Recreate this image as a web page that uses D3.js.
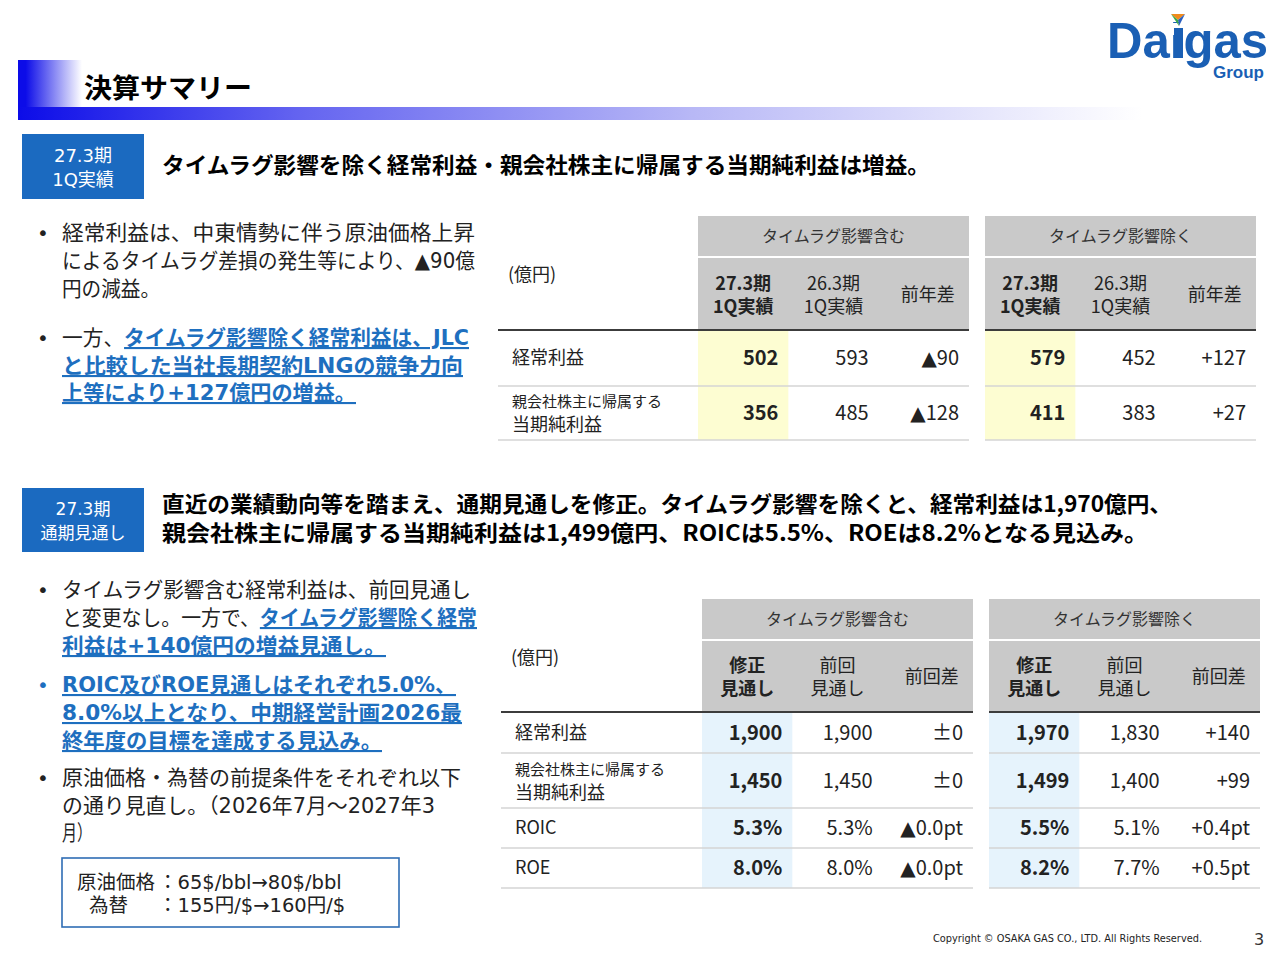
<!DOCTYPE html>
<html>
<head>
<meta charset="utf-8">
<script src="https://cdn.jsdelivr.net/npm/d3@7"></script>
<style>
body { margin: 0; background: #fff; }
svg { display: block; }
</style>
</head>
<body>
<svg width="1280" height="960"></svg>
<script>
// ---- data ----
var groupNames = ["タイムラグ影響含む", "タイムラグ影響除く"];

var subHeads1 = [["27.3期", "1Q実績"], ["26.3期", "1Q実績"], ["前年差"]];
var rowLabels1 = [["経常利益"], ["親会社株主に帰属する", "当期純利益"]];
var inclValues1 = [["502", "593", "▲90"], ["356", "485", "▲128"]];
var exclValues1 = [["579", "452", "+127"], ["411", "383", "+27"]];

var subHeads2 = [["修正", "見通し"], ["前回", "見通し"], ["前回差"]];
var rowLabels2 = [["経常利益"], ["親会社株主に帰属する", "当期純利益"], ["ROIC"], ["ROE"]];
var inclValues2 = [["1,900", "1,900", "±0"], ["1,450", "1,450", "±0"], ["5.3%", "5.3%", "▲0.0pt"], ["8.0%", "8.0%", "▲0.0pt"]];
var exclValues2 = [["1,970", "1,830", "+140"], ["1,499", "1,400", "+99"], ["5.5%", "5.1%", "+0.4pt"], ["8.2%", "7.7%", "+0.5pt"]];

var blue = "#1e6fbf";
var jp = "'DejaVu Sans', 'Noto Sans CJK JP', sans-serif";
var tbl = "'Noto Sans CJK JP', sans-serif";

var svg = d3.select("svg");
var defs = svg.append("defs");

// ---- title bar ----
var g1 = defs.append("linearGradient").attr("id", "fadeBlock");
g1.append("stop").attr("offset", "0").attr("stop-color", "#0c0ce8");
g1.append("stop").attr("offset", "0.12").attr("stop-color", "#0c0ce8");
g1.append("stop").attr("offset", "1").attr("stop-color", "#ffffff");
var g2 = defs.append("linearGradient").attr("id", "fadeStrip");
g2.append("stop").attr("offset", "0").attr("stop-color", "#0c0ce8");
g2.append("stop").attr("offset", "0.25").attr("stop-color", "#6464f0");
g2.append("stop").attr("offset", "0.6").attr("stop-color", "#b8b8f6");
g2.append("stop").attr("offset", "1").attr("stop-color", "#ffffff");

svg.append("rect").attr("x", 18).attr("y", 60).attr("width", 64).attr("height", 60).attr("fill", "url(#fadeBlock)");
svg.append("rect").attr("x", 18).attr("y", 107).attr("width", 1125).attr("height", 13).attr("fill", "url(#fadeStrip)");
svg.append("text").attr("x", 84).attr("y", 98)
    .style("font-family", "'Noto Sans CJK JP'").style("font-weight", 700).style("font-size", "27px")
    .attr("textLength", 168).attr("lengthAdjust", "spacingAndGlyphs")
    .text("決算サマリー");

// ---- logo ----
svg.append("text").attr("x", 1107).attr("y", 58)
    .style("font-family", "'Liberation Sans', Arial").style("font-weight", 700).style("font-size", "50px")
    .attr("fill", "#1a5fb4").attr("textLength", 161).attr("lengthAdjust", "spacingAndGlyphs")
    .text("Daigas");
svg.append("rect").attr("x", 1170).attr("y", 23).attr("width", 16).attr("height", 12).attr("fill", "#fff");
svg.append("polygon").attr("points", "1171,14 1185,14 1178,20").attr("fill", "#f08a1c");
svg.append("polygon").attr("points", "1185,14 1178,20 1179,26").attr("fill", "#2a5fc0");
svg.append("polygon").attr("points", "1171,14 1178,20 1179,26").attr("fill", "#3aa84a");
svg.append("rect").attr("x", 1174).attr("y", 28).attr("width", 9).attr("height", 30).attr("fill", "#1a5fb4");
svg.append("text").attr("x", 1213).attr("y", 78)
    .style("font-family", "'Liberation Sans', Arial").style("font-weight", 700).style("font-size", "17px")
    .attr("fill", "#1a5fb4").text("Group");

// ---- section labels & headlines ----
function label(y, h, lines, size) {
    svg.append("rect").attr("x", 22).attr("y", y).attr("width", 122).attr("height", h).attr("fill", "#1b6ac0");
    lines.forEach(function(t, i) {
        svg.append("text").attr("x", 83).attr("y", y + h / 2 - 5 + i * 24)
            .attr("text-anchor", "middle").attr("fill", "#fff")
            .style("font-family", jp).style("font-size", size + "px").text(t);
    });
}
label(134, 65, ["27.3期", "1Q実績"], 18);
label(488, 64, ["27.3期", "通期見通し"], 17);

function headline(y, t, w) {
    svg.append("text").attr("x", 162).attr("y", y)
        .style("font-family", "'Noto Sans CJK JP'").style("font-weight", 700).style("font-size", "22px")
        .attr("textLength", w).attr("lengthAdjust", "spacingAndGlyphs").text(t);
}
headline(173, "タイムラグ影響を除く経常利益・親会社株主に帰属する当期純利益は増益。", 768);
headline(512, "直近の業績動向等を踏まえ、通期見通しを修正。タイムラグ影響を除くと、経常利益は1,970億円、", 1010);
headline(541, "親会社株主に帰属する当期純利益は1,499億円、ROICは5.5%、ROEは8.2%となる見込み。", 986);

// ---- bullets ----
// parts: list of [text, emphasised]; endX is where the line stops in the slide
function bulletLine(y, endX, parts, dot, dotColor) {
    if (dot) {
        svg.append("text").attr("x", 37).attr("y", y).attr("fill", dotColor || "#222")
            .style("font-family", jp).style("font-size", "20px").text("•");
    }
    var t = svg.append("text").attr("x", 62).attr("y", y)
        .attr("textLength", endX - 62).attr("lengthAdjust", "spacingAndGlyphs")
        .style("font-family", jp).style("font-size", "21px").attr("fill", "#222");
    parts.forEach(function(p) {
        var s = t.append("tspan").text(p[0]);
        if (p[1]) {
            s.attr("fill", blue).style("font-weight", 700).style("text-decoration", "underline");
        }
    });
}

bulletLine(240, 475, [["経常利益は、中東情勢に伴う原油価格上昇"]], true);
bulletLine(268, 475, [["によるタイムラグ差損の発生等により、▲90億"]]);
bulletLine(296, 160, [["円の減益。"]]);
bulletLine(345, 469, [["一方、"], ["タイムラグ影響除く経常利益は、JLC", true]], true);
bulletLine(373, 463, [["と比較した当社長期契約LNGの競争力向", true]]);
bulletLine(400, 356, [["上等により+127億円の増益。", true]]);

bulletLine(597, 471, [["タイムラグ影響含む経常利益は、前回見通し"]], true);
bulletLine(625, 477, [["と変更なし。一方で、"], ["タイムラグ影響除く経常", true]]);
bulletLine(653, 386, [["利益は+140億円の増益見通し。", true]]);
bulletLine(692, 456, [["ROIC及びROE見通しはそれぞれ5.0%、", true]], true, blue);
bulletLine(720, 462, [["8.0%以上となり、中期経営計画2026最", true]]);
bulletLine(748, 382, [["終年度の目標を達成する見込み。", true]]);
bulletLine(785, 461, [["原油価格・為替の前提条件をそれぞれ以下"]], true);
bulletLine(813, 435, [["の通り見直し。（2026年7月～2027年3"]]);
bulletLine(840, 92, [["月）"]]);

svg.append("rect").attr("x", 62).attr("y", 858).attr("width", 337).attr("height", 69)
    .attr("fill", "none").attr("stroke", "#2f6db5").attr("stroke-width", 1.6);
[[77, 889, "原油価格"], [158, 889, "：65$/bbl→80$/bbl"], [89, 912, "為替"], [158, 912, "：155円/$→160円/$"]]
    .forEach(function(d) {
        svg.append("text").attr("x", d[0]).attr("y", d[1]).attr("fill", "#222")
            .style("font-family", jp).style("font-size", "19.5px").text(d[2]);
    });

// ---- tables ----
function valueText(sel, v) {
    if (v.charAt(0) === "▲") {
        sel.append("tspan").style("font-family", "'DejaVu Sans'").style("font-size", "20px").text("▲");
        sel.append("tspan").text(v.slice(1));
    } else {
        sel.text(v);
    }
}

function drawTable(cfg) {
    var g = svg.append("g").style("font-family", tbl).attr("fill", "#222");
    var subTop = cfg.top + cfg.headH + 2;
    var ruleY = subTop + cfg.subH + 1;
    var edges = [ruleY].concat(Array.from(d3.cumsum(cfg.rowH), function(v) { return ruleY + v; }));
    var y = d3.scaleOrdinal().domain(d3.range(edges.length)).range(edges);
    var bottom = y(edges.length - 1);

    [cfg.incl, cfg.excl].forEach(function(vals, gi) {
        var gx = cfg.groupX[gi];
        var x = d3.scaleBand().domain(d3.range(3)).range([gx, gx + cfg.groupW]);

        g.append("rect").attr("x", x(0)).attr("y", ruleY).attr("width", x.bandwidth())
            .attr("height", bottom - ruleY).attr("fill", cfg.hl);
        g.append("rect").attr("x", gx).attr("y", cfg.top).attr("width", cfg.groupW)
            .attr("height", cfg.headH).attr("fill", "#c9c9c9");
        g.append("rect").attr("x", gx).attr("y", subTop).attr("width", cfg.groupW)
            .attr("height", cfg.subH).attr("fill", "#c9c9c9");
        g.append("text").attr("x", gx + cfg.groupW / 2).attr("y", cfg.top + cfg.headH / 2 + 6)
            .attr("text-anchor", "middle").style("font-size", "16px").attr("fill", "#333")
            .text(groupNames[gi]);

        cfg.subHeads.forEach(function(lines, ci) {
            var cy = subTop + cfg.subH / 2;
            lines.forEach(function(t, li) {
                var ly = lines.length === 1 ? cy + 7 : cy - 11 + li * 23 + 7;
                g.append("text").attr("x", x(ci) + x.bandwidth() / 2 + (ci === 2 ? 4 : 0)).attr("y", ly)
                    .attr("text-anchor", "middle").style("font-size", "18px")
                    .style("font-weight", ci === 0 ? 700 : 400).text(t);
            });
        });

        vals.forEach(function(row, ri) {
            var cy = (y(ri) + y(ri + 1)) / 2;
            row.forEach(function(v, ci) {
                var t = g.append("text").attr("x", x(ci) + x.bandwidth() - 10).attr("y", cy + 7)
                    .attr("text-anchor", "end").style("font-size", "20px")
                    .style("font-weight", ci === 0 ? 700 : 400);
                valueText(t, v);
            });
        });

        // row separators
        d3.range(1, edges.length).forEach(function(i) {
            g.append("line").attr("x1", gi === 0 ? cfg.x0 : gx).attr("x2", gx + cfg.groupW)
                .attr("y1", y(i)).attr("y2", y(i)).attr("stroke", "#d4d4d4").attr("stroke-width", 1.6);
        });
        g.append("line").attr("x1", gi === 0 ? cfg.x0 : gx).attr("x2", gx + cfg.groupW)
            .attr("y1", ruleY).attr("y2", ruleY).attr("stroke", "#3c3c3c").attr("stroke-width", 2);
    });

    g.append("text").attr("x", cfg.x0 + 10).attr("y", cfg.top + 65).style("font-size", "18px").text("(億円)");

    cfg.rows.forEach(function(lines, ri) {
        var cy = (y(ri) + y(ri + 1)) / 2;
        if (lines.length === 1) {
            g.append("text").attr("x", cfg.x0 + 14).attr("y", cy + 6).style("font-size", "18px").text(lines[0]);
        } else {
            g.append("text").attr("x", cfg.x0 + 14).attr("y", cy - 6).style("font-size", "15px").text(lines[0]);
            g.append("text").attr("x", cfg.x0 + 14).attr("y", cy + 18).style("font-size", "18px").text(lines[1]);
        }
    });
}

drawTable({
    x0: 498, groupX: [698, 985], groupW: 271, top: 216, headH: 40, subH: 71,
    rowH: [56, 54], rows: rowLabels1, subHeads: subHeads1,
    incl: inclValues1, excl: exclValues1, hl: "#fdfdd2"
});
drawTable({
    x0: 501, groupX: [702, 989], groupW: 271, top: 599, headH: 40, subH: 70,
    rowH: [41, 55, 40, 40], rows: rowLabels2, subHeads: subHeads2,
    incl: inclValues2, excl: exclValues2, hl: "#e6f3fc"
});

// ---- footer ----
svg.append("text").attr("x", 933).attr("y", 942)
    .style("font-family", "'DejaVu Sans'").style("font-size", "10px").attr("fill", "#222")
    .attr("textLength", 269).attr("lengthAdjust", "spacingAndGlyphs")
    .text("Copyright © OSAKA GAS CO., LTD. All Rights Reserved.");
svg.append("text").attr("x", 1254).attr("y", 945)
    .style("font-family", "'DejaVu Sans'").style("font-size", "16px").attr("fill", "#333").text("3");
</script>
</body>
</html>
